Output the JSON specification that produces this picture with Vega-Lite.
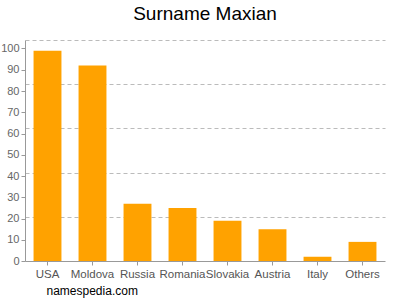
{
  "$schema": "https://vega.github.io/schema/vega-lite/v6.json",
  "width": 360,
  "height": 221,
  "autosize": {"type": "none"},
  "padding": {"left": 25, "top": 40, "right": 15, "bottom": 39},
  "title": {"text": "Surname Maxian", "fontSize": 19, "font": "Liberation Sans", "fontWeight": "normal", "color": "#000", "anchor": "middle", "offset": 16},
  "data": {"values": [
    {"country": "USA", "count": 99},
    {"country": "Moldova", "count": 92},
    {"country": "Russia", "count": 27},
    {"country": "Romania", "count": 25},
    {"country": "Slovakia", "count": 19},
    {"country": "Austria", "count": 15},
    {"country": "Italy", "count": 2},
    {"country": "Others", "count": 9}
  ]},
  "config": {"view": {"stroke": null}, "font": "Liberation Sans"},
  "layer": [
    {
      "mark": {"type": "bar", "color": "#FFA200"},
      "encoding": {
        "x": {"field": "country", "type": "nominal", "sort": null,
          "scale": {"paddingInner": 0.38, "paddingOuter": 0.19},
          "axis": {"labelAngle": 0, "labelFontSize": 11.5, "labelColor": "#555", "domainColor": "#999", "tickColor": "#999", "tickSize": 4, "labelPadding": 3,
            "title": "namespedia.com", "titleFontSize": 12, "titleFontWeight": "normal", "titleColor": "#000", "titleAnchor": "start", "titleAlign": "left", "titleX": 21, "titleY": 24}},
        "y": {"field": "count", "type": "quantitative",
          "scale": {"domain": [0, 104], "nice": false},
          "axis": {"values": [0,10,20,30,40,50,60,70,80,90,100], "grid": false, "labelFontSize": 11, "labelColor": "#666", "domainColor": "#999", "tickColor": "#999", "tickSize": 4, "labelPadding": 2, "title": null}}
      }
    },
    {
      "mark": {"type": "bar", "opacity": 0},
      "encoding": {
        "x": {"field": "country", "type": "nominal", "sort": null},
        "y": {"field": "count", "type": "quantitative",
          "axis": {"values": [20.8, 41.6, 62.4, 83.2, 104], "grid": true, "gridDash": [4, 3], "gridColor": "#bbb", "labels": false, "ticks": false, "domain": false, "title": null, "orient": "left"}}
      }
    }
  ],
  "resolve": {"axis": {"y": "independent"}}
}
